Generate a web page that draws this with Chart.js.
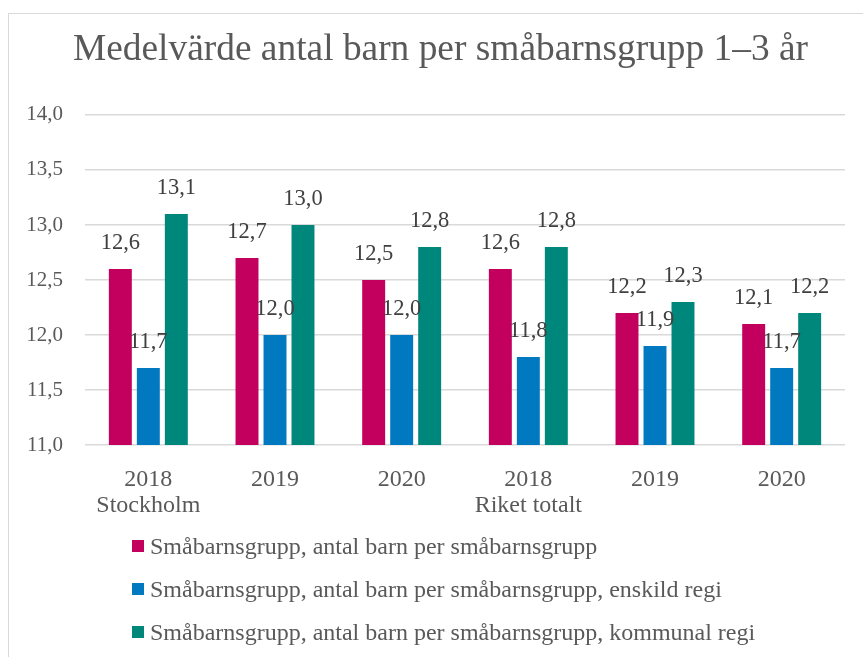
<!DOCTYPE html>
<html><head><meta charset="utf-8">
<script src="https://cdn.jsdelivr.net/npm/chart.js@4"></script>
<style>
html,body{margin:0;padding:0;background:#fff;}
#wrap{position:relative;width:863px;height:657px;overflow:hidden;}
#frame{position:absolute;left:8px;top:13px;width:900px;height:700px;border:1.5px solid #d9d9d9;box-sizing:border-box;}
canvas{position:absolute;left:0;top:0;}
#legend{position:absolute;left:132px;top:0;font-family:"Liberation Serif","Times New Roman",serif;font-size:24px;color:#595959;}
.li{position:absolute;left:0;white-space:nowrap;display:flex;align-items:center;height:28px;}
.sw{width:12px;height:12px;margin-right:6px;display:inline-block;}
</style></head>
<body><div id="wrap"><div id="frame"></div><canvas id="c" width="863" height="657"></canvas><div id="legend"></div></div>
<script>
const categories = [["2018","Stockholm"],"2019","2020",["2018","Riket totalt"],"2019","2020"];
const seriesNames = ["Småbarnsgrupp, antal barn per småbarnsgrupp","Småbarnsgrupp, antal barn per småbarnsgrupp, enskild regi","Småbarnsgrupp, antal barn per småbarnsgrupp, kommunal regi"];
const totalValues = [12.6,12.7,12.5,12.6,12.2,12.1];
const enskildValues = [11.7,12.0,12.0,11.8,11.9,11.7];
const kommunalValues = [13.1,13.0,12.8,12.8,12.3,12.2];
const colors = ["#C4005F","#0079C1","#00877C"];
const titleText = "Medelvärde antal barn per småbarnsgrupp 1–3 år";

const serif = "'Liberation Serif','Times New Roman',serif";
const fmt = v => v.toFixed(1).replace('.', ',');

const labelPlugin = {
  id:'vals',
  afterLayout(chart){
    // center the title on the outer frame rather than the padded canvas
    if (chart.titleBlock) { chart.titleBlock.left += 14; chart.titleBlock.right += 14; }
  },
  afterDatasetsDraw(chart){
    const ctx = chart.ctx;
    ctx.save();
    ctx.font = "22.5px " + serif;
    ctx.fillStyle = "#404040";
    ctx.textAlign = "center";
    ctx.textBaseline = "middle";
    chart.data.datasets.forEach((ds,i)=>{
      chart.getDatasetMeta(i).data.forEach((el,j)=>{
        ctx.fillText(fmt(ds.data[j]), el.x, el.y - 26);
      });
    });
    ctx.restore();
  }
};

const chart = new Chart(document.getElementById('c'), {
  type:'bar',
  data:{
    labels: categories,
    datasets:[
      {label:seriesNames[0], data:totalValues, backgroundColor:colors[0]},
      {label:seriesNames[1], data:enskildValues, backgroundColor:colors[1]},
      {label:seriesNames[2], data:kommunalValues, backgroundColor:colors[2]}
    ]
  },
  options:{
    responsive:false,
    animation:false,
    layout:{padding:{left:8,right:18,top:13,bottom:132}},
    datasets:{bar:{categoryPercentage:0.663,barPercentage:0.82}},
    plugins:{
      legend:{display:false},
      tooltip:{enabled:false},
      title:{display:true,text:titleText,color:"#595959",
        font:{family:serif,size:37.4,weight:'normal',lineHeight:1.2},
        padding:{top:14.4,bottom:42.7}}
    },
    scales:{
      x:{
        grid:{display:false},
        border:{display:false},
        ticks:{color:"#595959",font:{family:serif,size:24,lineHeight:1.05},padding:14.5,maxRotation:0,autoSkip:false},
        afterFit(s){ s.height = 80; }
      },
      y:{
        min:11,max:14,
        grid:{color:"#d9d9d9",lineWidth:1.5,drawTicks:false},
        border:{display:false},
        ticks:{stepSize:0.5,color:"#595959",font:{family:serif,size:21},padding:22,callback:v=>fmt(v)},
        afterFit(s){ s.width = 77; }
      }
    }
  },
  plugins:[labelPlugin]
});

const lg = document.getElementById('legend');
const rowCenters = [546,589,632];
chart.data.datasets.forEach((ds,i)=>{
  const d = document.createElement('div');
  d.className='li';
  d.style.top = (rowCenters[i]-14)+'px';
  const sw = document.createElement('span');
  sw.className='sw'; sw.style.background = ds.backgroundColor;
  d.appendChild(sw);
  d.appendChild(document.createTextNode(ds.label));
  lg.appendChild(d);
});
</script></body></html>
